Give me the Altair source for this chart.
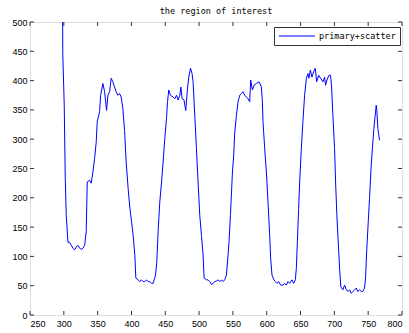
import altair as alt
import pandas as pd

x_vals = [298.3, 298.5, 299.8, 300.6, 302.1, 303.6, 306.1, 308.6, 311.0, 313.5, 316.0, 318.4, 320.9, 323.4, 325.7, 328.3, 330.8, 333.1, 334.6, 338.1,
          340.5, 343.0, 345.5, 347.9, 349.4, 352.9, 354.4, 357.8, 360.3, 363.2, 365.2, 367.7, 370.0, 372.5, 375.0, 377.4, 379.9, 382.4, 384.8, 387.3,
          389.8, 392.2, 395.1, 397.7, 400.2, 402.5, 405.0, 406.5, 409.9, 412.4, 414.9, 417.3, 419.8, 422.3, 424.7, 427.2, 429.7, 432.1, 433.5, 435.6,
          437.5, 439.4, 441.9, 444.5, 446.8, 449.3, 451.8, 453.3, 455.2, 457.7, 461.6, 464.1, 466.6, 469.0, 471.5, 473.0, 474.9, 477.8, 478.9, 480.3,
          482.8, 484.8, 487.3, 489.6, 491.1, 493.6, 496.1, 498.5, 501.0, 503.5, 505.9, 507.4, 510.9, 513.3, 515.8, 518.3, 520.6, 523.2, 525.7, 528.0,
          530.5, 533.0, 535.4, 537.9, 540.4, 542.8, 544.3, 546.3, 547.8, 549.3, 551.2, 552.7, 555.2, 557.6, 560.1, 562.6, 565.0, 567.5, 570.0, 572.3,
          574.8, 576.3, 578.8, 581.2, 584.7, 588.6, 592.1, 593.6, 594.5, 597.0, 599.5, 601.9, 604.4, 605.8, 607.8, 610.7, 612.8, 615.1, 617.6, 620.6,
          624.0, 626.5, 629.0, 631.4, 633.9, 637.3, 639.8, 642.3, 643.8, 645.3, 647.2, 648.7, 651.2, 653.5, 656.0, 658.6, 660.9, 662.4, 664.5, 666.8,
          669.3, 671.8, 673.8, 676.7, 679.7, 683.1, 685.6, 687.0, 689.0, 691.9, 694.4, 695.9, 697.8, 700.3, 701.8, 703.7, 706.2, 707.7, 709.6, 712.6,
          715.1, 717.6, 720.0, 722.5, 725.0, 727.4, 729.9, 732.4, 734.7, 737.2, 739.8, 742.1, 744.6, 746.1, 748.0, 750.1, 752.0, 754.5, 756.9, 758.4,
          760.4, 761.9, 762.8, 764.3, 765.7, 766.8]
y_vals = [500, 443, 392, 358, 234, 170, 124, 124, 119, 114, 111, 116, 119, 114, 112, 114, 119, 142, 227, 230,
          225, 244, 267, 295, 330, 347, 375, 395, 381, 349, 375, 381, 404, 398, 389, 381, 375, 378, 372, 352,
          315, 261, 216, 182, 159, 136, 102, 63, 60, 57, 60, 57, 57, 60, 57, 57, 54, 54, 60, 68,
          91, 142, 193, 227, 261, 301, 335, 364, 384, 375, 372, 369, 375, 367, 375, 389, 369, 367, 358, 349,
          386, 406, 421, 412, 398, 341, 284, 227, 170, 136, 102, 63, 60, 60, 57, 52, 54, 57, 58, 60,
          57, 60, 57, 60, 68, 102, 125, 170, 205, 244, 273, 312, 341, 364, 375, 378, 381, 375, 372, 369,
          364, 401, 384, 392, 395, 398, 389, 364, 330, 284, 244, 193, 136, 97, 68, 60, 57, 54, 57, 51,
          51, 54, 51, 57, 54, 60, 54, 60, 80, 125, 182, 227, 284, 330, 375, 404, 412, 404, 418, 406,
          415, 421, 398, 409, 404, 398, 406, 392, 401, 409, 409, 389, 341, 284, 227, 170, 114, 80, 48, 43,
          51, 43, 40, 43, 37, 40, 43, 46, 40, 43, 40, 40, 46, 63, 114, 159, 199, 256, 295, 318,
          341, 358, 349, 318, 307, 298]
series_name = "primary+scatter"
x_ticks = [250, 300, 350, 400, 450, 500, 550, 600, 650, 700, 750, 800]
y_ticks = [0, 50, 100, 150, 200, 250, 300, 350, 400, 450, 500]

W, H = 372, 293
TL = 4

df = pd.DataFrame({"x": x_vals, "y": y_vals, "series": [series_name] * len(x_vals)})
xt = pd.DataFrame({"t": x_ticks})
yt = pd.DataFrame({"t": y_ticks})

xscale = alt.Scale(domain=[250, 800], nice=False, zero=False)
yscale = alt.Scale(domain=[0, 500], nice=False, zero=False)
lab_font = "Liberation Sans"

x_axis = alt.Axis(values=x_ticks, title=None, grid=False, domain=False, ticks=False,
                  labelPadding=4, labelFontSize=9, labelFont=lab_font, labelColor="black",
                  labelFlush=True, labelOverlap=False)
y_axis = alt.Axis(values=y_ticks, title=None, grid=False, domain=False, ticks=False,
                  labelPadding=3, labelFontSize=9, labelFont=lab_font, labelColor="black",
                  labelFlush=False, labelOverlap=False, labelBaseline="middle")

line = alt.Chart(df).mark_line(color="#0000ff", strokeWidth=1, clip=True).encode(
    x=alt.X("x:Q", scale=xscale, axis=x_axis),
    y=alt.Y("y:Q", scale=yscale, axis=y_axis),
    color=alt.Color("series:N", scale=alt.Scale(domain=[series_name], range=["#0000ff"]),
                    legend=alt.Legend(title=None, orient="none", legendX=244, legendY=5,
                                      symbolType="stroke", symbolSize=1300, symbolStrokeWidth=1,
                                      clipHeight=10,
                                      labelFont="DejaVu Sans Mono", labelFontSize=8.5, labelColor="black",
                                      strokeColor="#333333", fillColor="white", padding=4,
                                      labelOffset=3, cornerRadius=0)),
)

tick_style = dict(color="#333333", strokeWidth=1)
xb = alt.Chart(xt).mark_rule(**tick_style).encode(x=alt.X("t:Q", scale=xscale, axis=x_axis), y=alt.value(H), y2=alt.value(H - TL))
xtop = alt.Chart(xt).mark_rule(**tick_style).encode(x=alt.X("t:Q", scale=xscale, axis=x_axis), y=alt.value(0), y2=alt.value(TL))
yl = alt.Chart(yt).mark_rule(**tick_style).encode(y=alt.Y("t:Q", scale=yscale, axis=y_axis), x=alt.value(0), x2=alt.value(TL))
yr = alt.Chart(yt).mark_rule(**tick_style).encode(y=alt.Y("t:Q", scale=yscale, axis=y_axis), x=alt.value(W), x2=alt.value(W - TL))

chart = alt.layer(line, xb, xtop, yl, yr).properties(
    width=W, height=H,
    title=alt.TitleParams("the region of interest", font="DejaVu Sans Mono", fontSize=8.5,
                          fontWeight="normal", color="black", offset=3),
    autosize=alt.AutoSizeParams(type="none"),
    padding={"left": 30, "top": 22, "right": 7, "bottom": 18},
).configure_view(stroke="#333333", strokeWidth=1).configure(background="white")

chart.save("out.html", embed_options={"renderer": "svg", "actions": False})
